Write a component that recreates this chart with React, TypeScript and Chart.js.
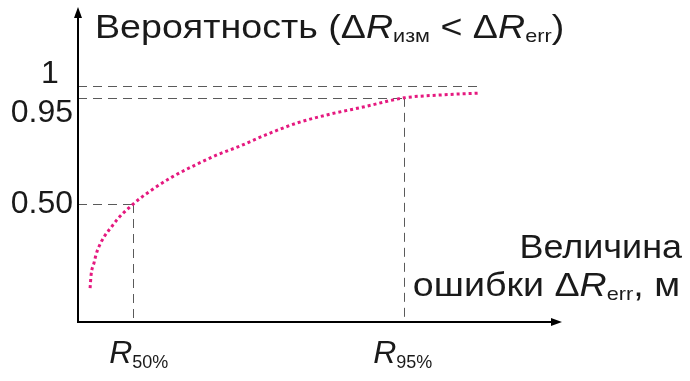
import React, { useEffect, useRef } from "react";
import { Chart, registerables } from "chart.js";
Chart.register(...registerables);

// Curve: error magnitude (arbitrary units) vs probability
const errorValues = [2.5, 2.7, 3.3, 3.9, 7.2, 11.4, 14.9, 19.4, 24.2, 28.7, 33.5, 38.2, 45.2, 52.1, 58.9, 67.4, 74.8, 82.6];
const probabilityValues = [0.144, 0.199, 0.25, 0.297, 0.411, 0.5, 0.555, 0.614, 0.665, 0.708, 0.746, 0.788, 0.843, 0.881, 0.911, 0.95, 0.962, 0.97];

// Reference levels
const levelValues = [1, 0.95, 0.5];
const levelLabels = ["1", "0.95", "0.50"];
const r50 = 11.4;
const r95 = 67.4;
const curveEnd = 82.6;

const FONT = "'Liberation Sans', Arial, sans-serif";

type Part = { t: string; size: number; italic?: boolean; dy?: number };

function drawParts(ctx: CanvasRenderingContext2D, parts: Part[], x: number, y: number, align: "left" | "right", sx = 1) {
  let total = 0;
  const widths = parts.map((p) => {
    ctx.font = `${p.italic ? "italic " : ""}${p.size}px ${FONT}`;
    const w = ctx.measureText(p.t).width;
    total += w;
    return w;
  });
  const start = align === "left" ? x : x - total * sx;
  ctx.save();
  ctx.translate(start, y);
  ctx.scale(sx, 1);
  ctx.textAlign = "left";
  ctx.textBaseline = "alphabetic";
  let cx = 0;
  parts.forEach((p, i) => {
    ctx.font = `${p.italic ? "italic " : ""}${p.size}px ${FONT}`;
    ctx.fillText(p.t, cx, p.dy || 0);
    cx += widths[i];
  });
  ctx.restore();
}

const overlay = {
  id: "overlay",
  beforeDatasetsDraw(chart: any) {
    const ctx: CanvasRenderingContext2D = chart.ctx;
    const xs = chart.scales.x;
    const ys = chart.scales.y;
    const x0 = xs.getPixelForValue(0);
    const y0 = ys.getPixelForValue(0);
    ctx.save();
    // dashed guide lines
    ctx.strokeStyle = "#5a5a5a";
    ctx.lineWidth = 1;
    ctx.setLineDash([9, 6]);
    const hl = (v: number, xe: number) => {
      const y = Math.round(ys.getPixelForValue(v)) + 0.5;
      ctx.beginPath();
      ctx.moveTo(x0, y);
      ctx.lineTo(xs.getPixelForValue(xe), y);
      ctx.stroke();
    };
    hl(levelValues[0], curveEnd);
    hl(levelValues[1], r95);
    hl(levelValues[2], r50);
    const vl = (xv: number, yv: number) => {
      const x = Math.round(xs.getPixelForValue(xv)) + 0.5;
      ctx.beginPath();
      ctx.moveTo(x, ys.getPixelForValue(yv));
      ctx.lineTo(x, y0);
      ctx.stroke();
    };
    vl(r50, levelValues[2]);
    vl(r95, levelValues[1]);
    ctx.setLineDash([]);
    // axes
    ctx.strokeStyle = "#000";
    ctx.fillStyle = "#000";
    ctx.lineWidth = 2;
    const top = chart.chartArea.top;
    const right = chart.chartArea.right;
    ctx.beginPath();
    ctx.moveTo(x0, y0);
    ctx.lineTo(x0, top + 8);
    ctx.moveTo(x0 - 1, y0);
    ctx.lineTo(right - 8, y0);
    ctx.stroke();
    ctx.beginPath();
    ctx.moveTo(x0, top);
    ctx.lineTo(x0 - 4, top + 11);
    ctx.lineTo(x0 + 4, top + 11);
    ctx.closePath();
    ctx.fill();
    ctx.beginPath();
    ctx.moveTo(right, y0);
    ctx.lineTo(right - 11, y0 - 4);
    ctx.lineTo(right - 11, y0 + 4);
    ctx.closePath();
    ctx.fill();
    ctx.restore();
  },
  afterDraw(chart: any) {
    const ctx: CanvasRenderingContext2D = chart.ctx;
    const xs = chart.scales.x;
    const ys = chart.scales.y;
    ctx.save();
    ctx.fillStyle = "#1a1a1a";
    // y level labels
    ctx.font = `32px ${FONT}`;
    ctx.textBaseline = "alphabetic";
    ctx.textAlign = "center";
    ctx.fillText(levelLabels[0], 50, ys.getPixelForValue(levelValues[0]) - 3);
    ctx.textAlign = "right";
    ctx.fillText(levelLabels[1], 73, ys.getPixelForValue(levelValues[1]) + 24);
    ctx.fillText(levelLabels[2], 73, ys.getPixelForValue(levelValues[2]) + 9);
    // title
    drawParts(ctx, [
      { t: "Вероятность (Δ", size: 33 },
      { t: "R", size: 33, italic: true },
      { t: "изм", size: 19, dy: 4 },
      { t: " < Δ", size: 33 },
      { t: "R", size: 33, italic: true },
      { t: "err", size: 19, dy: 4 },
      { t: ")", size: 33 },
    ], 95, 38, "left", 1.14);
    // x axis title
    drawParts(ctx, [{ t: "Величина", size: 33 }], 682, 258, "right", 1.09);
    drawParts(ctx, [
      { t: "ошибки Δ", size: 33 },
      { t: "R", size: 33, italic: true },
      { t: "err", size: 19, dy: 4 },
      { t: ", м", size: 33 },
    ], 680, 296, "right", 1.14);
    // R labels
    drawParts(ctx, [
      { t: "R", size: 32, italic: true },
      { t: "50%", size: 18, dy: 5 },
    ], xs.getPixelForValue(r50) - 24, 363, "left");
    drawParts(ctx, [
      { t: "R", size: 32, italic: true },
      { t: "95%", size: 18, dy: 5 },
    ], xs.getPixelForValue(r95) - 31, 363, "left");
    ctx.restore();
  },
};

export default function App() {
  const ref = useRef<HTMLCanvasElement>(null);
  useEffect(() => {
    if (!ref.current) return;
    const chart = new Chart(ref.current, {
      type: "line",
      data: {
        datasets: [
          {
            data: errorValues.map((x, i) => ({ x, y: probabilityValues[i] })),
            borderColor: "#e5197f",
            borderWidth: 3,
            borderDash: [3, 3],
            borderCapStyle: "butt",
            pointRadius: 0,
            fill: false,
            cubicInterpolationMode: "monotone",
          },
        ],
      },
      options: {
        animation: false,
        responsive: false,
        maintainAspectRatio: false,
        devicePixelRatio: 1,
        layout: { padding: { left: 78, right: 128, top: 7, bottom: 59 } },
        plugins: { legend: { display: false }, tooltip: { enabled: false } },
        scales: {
          x: { type: "linear", min: 0, max: 100, display: false },
          y: { type: "linear", min: 0, max: 1.335, display: false },
        },
      },
      plugins: [overlay],
    });
    return () => chart.destroy();
  }, []);
  return (
    <div style={{ position: "absolute", left: 0, top: 0, width: 690, height: 381, background: "#fff" }}>
      <canvas ref={ref} width={690} height={381} style={{ display: "block" }} />
    </div>
  );
}
